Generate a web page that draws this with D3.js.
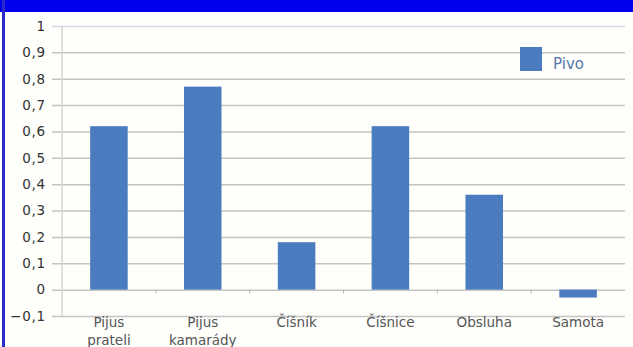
<!DOCTYPE html>
<html>
<head>
<meta charset="utf-8">
<script src="https://cdn.jsdelivr.net/npm/d3@7"></script>
<style>
  body { margin: 0; background: #fff; }
  svg { display: block; }
</style>
</head>
<body>
<svg class="chart-svg"></svg>
<script>
const categories = [["Pijus", "prateli"], ["Pijus", "kamarády"], ["Číšník"], ["Číšnice"], ["Obsluha"], ["Samota"]];
const pivo = [0.62, 0.77, 0.18, 0.62, 0.36, -0.03];
const yTicks = [1, 0.9, 0.8, 0.7, 0.6, 0.5, 0.4, 0.3, 0.2, 0.1, 0, -0.1];
const seriesName = "Pivo";

const W = 633, H = 347;
const margin = { top: 26, bottom: 31, left: 62, right: 8 };
const width = W - margin.left - margin.right;
const height = H - margin.top - margin.bottom;

const data = categories.map((c, i) => ({ key: c.join(" "), lines: c, value: pivo[i] }));

const svg = d3.select(".chart-svg").attr("width", W).attr("height", H);

svg.append("rect").attr("width", W).attr("height", H).attr("fill", "#fefefb");
// blue frame from the screenshot
svg.append("rect").attr("x", 0).attr("y", 0).attr("width", W).attr("height", 12).attr("fill", "#0000ee");
svg.append("rect").attr("x", 2).attr("y", 0).attr("width", 3).attr("height", H).attr("fill", "#2a2ac8");

const g = svg.append("g").attr("transform", `translate(${margin.left},${margin.top})`);

const xScale = d3.scaleBand()
  .domain(data.map((d) => d.key))
  .range([0, width])
  .paddingInner(0.6)
  .paddingOuter(0.3);
const yScale = d3.scaleLinear().domain([-0.1, 1]).range([height, 0]);

// gridlines + y labels
const yAxis = g.append("g")
  .attr("class", "y-axis")
  .call(d3.axisLeft(yScale).tickValues(yTicks).tickSize(-width - 10).tickPadding(6)
    .tickFormat((d) => d3.format(".1~f")(d).replace(".", ",")))
  .attr("transform", "translate(-10,0)");
yAxis.select(".domain").remove();
yAxis.selectAll("line")
  .attr("stroke", (d) => (d === 1 ? "#d8d8e8" : "#c4c4c4"))
  .attr("stroke-width", 1.5);
yAxis.selectAll("text")
  .attr("fill", "#333")
  .style("font-family", "DejaVu Sans, sans-serif")
  .style("font-size", "13.5px")
  .style("letter-spacing", "0.8px");

// vertical axis line
g.append("line")
  .attr("x1", 0).attr("x2", 0)
  .attr("y1", yScale(1)).attr("y2", yScale(-0.1))
  .attr("stroke", "#d4d4d4").attr("stroke-width", 1.5);

// small category tick marks on the zero line
const step = xScale.step();
g.append("g")
  .selectAll("line")
  .data(d3.range(1, categories.length))
  .join("line")
  .attr("x1", (i) => i * step).attr("x2", (i) => i * step)
  .attr("y1", yScale(0)).attr("y2", yScale(0) + 4)
  .attr("stroke", "#b8b8b8");

g.append("g")
  .selectAll(".bar")
  .data(data)
  .join("rect")
  .attr("class", "bar")
  .attr("x", (d) => xScale(d.key))
  .attr("y", (d) => yScale(Math.max(0, d.value)))
  .attr("width", xScale.bandwidth())
  .attr("height", (d) => Math.abs(yScale(d.value) - yScale(0)))
  .attr("fill", "#4a7cbf");

// category labels
const labels = g.append("g")
  .selectAll("text")
  .data(data)
  .join("text")
  .attr("x", (d) => xScale(d.key) + xScale.bandwidth() / 2)
  .attr("y", height + 11)
  .attr("text-anchor", "middle")
  .attr("fill", "#555")
  .style("font-family", "DejaVu Sans, sans-serif")
  .style("font-size", "13.5px");
labels.selectAll("tspan")
  .data((d) => d.lines)
  .join("tspan")
  .attr("x", function () { return d3.select(this.parentNode).attr("x"); })
  .attr("dy", (d, i) => (i === 0 ? 0 : 18))
  .text((d) => d);

// legend
const legend = svg.append("g").attr("transform", "translate(520,47)");
legend.append("rect").attr("width", 22).attr("height", 24).attr("fill", "#4a7cbf");
legend.append("text")
  .attr("x", 33).attr("y", 22)
  .attr("fill", "#5878ac")
  .style("font-family", "DejaVu Sans, sans-serif")
  .style("font-size", "15px")
  .text(seriesName);
</script>
</body>
</html>
